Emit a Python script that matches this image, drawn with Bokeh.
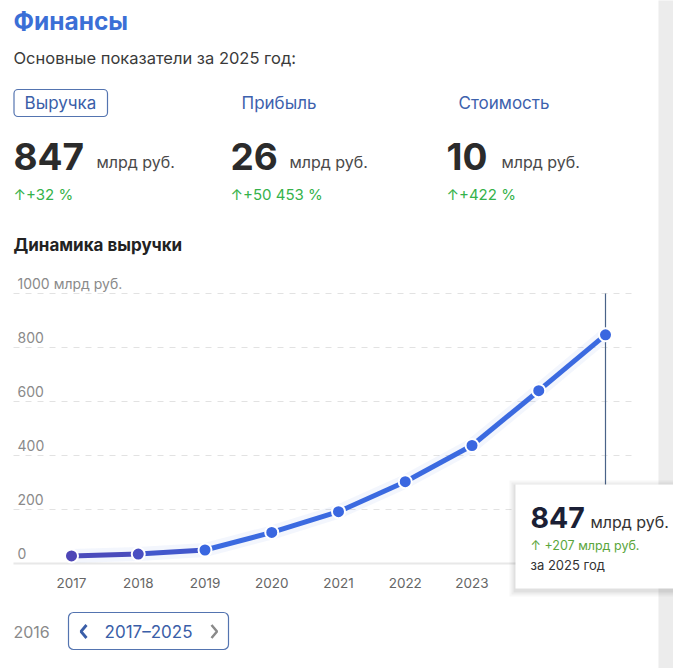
from bokeh.plotting import figure
from bokeh.models import Range1d
from bokeh.embed import file_html
from bokeh.resources import INLINE
from bokeh.core.properties import value

# ---------------- data ----------------
years = [2017, 2018, 2019, 2020, 2021, 2022, 2023, 2024, 2025]
revenue = [28, 35, 50, 115, 192, 303, 437, 640, 847]
y_ticks = [0, 200, 400, 600, 800, 1000]
y_tick_labels = ["0", "200", "400", "600", "800", "1000 млрд руб."]
x_tick_labels = ["2017", "2018", "2019", "2020", "2021", "2022", "2023", "2024", "2025"]
kpi_names = ["Выручка", "Прибыль", "Стоимость"]
kpi_values = ["847", "26", "10"]
kpi_changes = ["↑+32 %", "↑+50 453 %", "↑+422 %"]

FONT = value("Inter")

# ---------------- layout helpers (page pixel -> data) ----------------
W, H = 673, 668
OFF = 0
def X(px):
    return 2017 + (px - 71) / 66.75
def Y(py):
    return (563 - py) / 0.27

p = figure(width=W, height=H, x_range=Range1d(X(OFF), X(OFF + W)), y_range=Range1d(Y(OFF + H), Y(OFF)),
           output_backend="svg", toolbar_location=None, min_border=0,
           x_axis_location=None, y_axis_location=None)
p.grid.visible = False
p.outline_line_color = None
p.background_fill_color = "white"
p.border_fill_color = "white"

def txt(px, py, s, size, color, bold=False, align="left", style=None):
    p.text(x=[X(px)], y=[Y(py)], text=[s], text_font=FONT, text_font_size=f"{size}px",
           text_color=color, text_align=align, text_baseline="middle",
           text_font_style=style or ("bold" if bold else "normal"))

# gray strip at right
p.quad(left=[X(658)], right=[X(700)], bottom=[Y(700)], top=[Y(-10)], fill_color="#ececec", line_color=None)

# ---------------- header ----------------
txt(13, 20, "Финансы", 24.5, "#3b6fd6", bold=True)
txt(13, 57, "Основные показатели за 2025 год:", 16.5, "#3a3a3a")

p.quad(left=[X(13.5)], right=[X(107)], bottom=[Y(116)], top=[Y(89)], fill_color="white",
       line_color="#5474b0", line_width=1.2, border_radius=4)
tab_x = [60, 241, 458]
txt(tab_x[0], 102.5, kpi_names[0], 17, "#3a5ea8", align="center")
txt(tab_x[1], 102.5, kpi_names[1], 17, "#3d61ad")
txt(tab_x[2], 102.5, kpi_names[2], 17, "#3d61ad")

num_x = [13, 230, 446]
unit_x = [96, 289, 501]
for i in range(3):
    txt(num_x[i], 156, kpi_values[i], 37, "#2b2b2b", bold=True)
    txt(unit_x[i], 161, "млрд руб.", 16, "#4a4a4a")
    txt(num_x[i], 194, kpi_changes[i], 15, "#35b24a")

txt(13, 244, "Динамика выручки", 17, "#222222", bold=True)

# ---------------- chart ----------------
grid_vals = y_ticks[1:]
p.segment(x0=[X(13)] * len(grid_vals), x1=[X(637)] * len(grid_vals), y0=grid_vals, y1=grid_vals,
          line_color="#e2e2e2", line_width=1, line_dash="6 6")
p.segment(x0=[X(13)], x1=[X(637)], y0=[y_ticks[0]], y1=[y_ticks[0]], line_color="#e8e8e8", line_width=2)

p.text(x=[X(17)] * len(y_ticks), y=y_ticks, text=y_tick_labels, text_font=FONT, text_font_size="14px",
       text_color="#8a8a8a", text_align="left", text_baseline="middle", y_offset=-10)
p.text(x=years, y=[0] * len(years), text=x_tick_labels, text_font=FONT, text_font_size="13.5px",
       text_color="#666666", text_align="center", text_baseline="middle", y_offset=19)

# crosshair
p.segment(x0=[years[-1]], x1=[years[-1]], y0=[y_ticks[-1]], y1=[0], line_color="#4a6388", line_width=1.2)

# glow + line
p.line(years, revenue, line_color="#3b6ae0", line_width=14, line_alpha=0.06)
seg_colors = ["#4b4cbc", "#4257cc"] + ["#3b6ae0"] * (len(years) - 3)
p.segment(x0=years[:-1], y0=revenue[:-1], x1=years[1:], y1=revenue[1:], line_color=seg_colors,
          line_width=5, line_cap="butt")
pt_colors = ["#4e46b6", "#4a4fc2"] + ["#3a67e0"] * (len(years) - 2)
p.scatter(years, revenue, size=13, fill_color=pt_colors, line_color="white", line_width=2)

# ---------------- tooltip ----------------
for k, a in [(6, 0.03), (4, 0.04), (2, 0.05)]:
    p.quad(left=[X(515 - k)], right=[X(700)], bottom=[Y(588 + k + 2)], top=[Y(484 - k + 2)],
           fill_color="#000000", fill_alpha=a, line_color=None)
p.quad(left=[X(515)], right=[X(700)], bottom=[Y(588)], top=[Y(484)], fill_color="white", line_color=None)
txt(530, 517, "847", 28.5, "#1b1f35", bold=True)
txt(590, 521, "млрд руб.", 16, "#333333")
txt(530, 545, "↑  +207 млрд руб.", 12.5, "#5ba63c")
txt(530, 564, "за 2025 год", 13, "#333333")

# ---------------- footer ----------------
txt(13, 631, "2016", 16, "#8a8a8a")
p.quad(left=[X(68)], right=[X(228)], bottom=[Y(649)], top=[Y(612)], fill_color="white",
       line_color="#5474b0", line_width=1.2, border_radius=5)
p.line([X(86), X(80.5), X(86)], [Y(624.5), Y(631), Y(637.5)], line_color="#3a5ea8", line_width=2.8)
p.line([X(211), X(216.5), X(211)], [Y(624.5), Y(631), Y(637.5)], line_color="#8a8a8a", line_width=2.5)
txt(148, 631, "2017–2025", 17, "#3a5ea8", align="center")

open("out.html", "w").write(file_html(p, INLINE))
